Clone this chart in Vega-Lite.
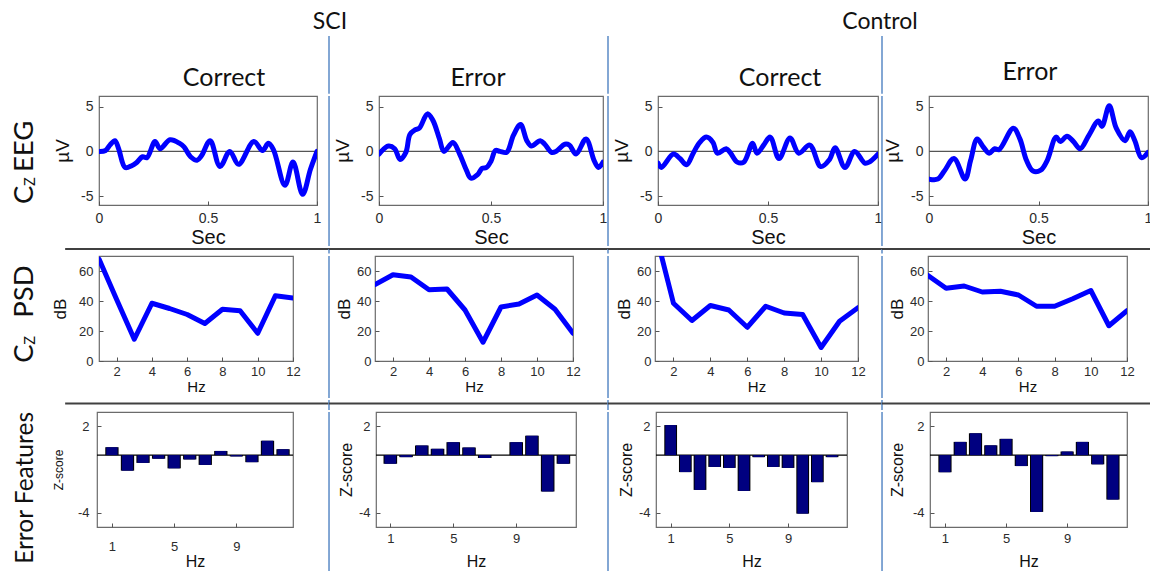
{
  "$schema": "https://vega.github.io/schema/vega-lite/v6.json",
  "padding": 0,
  "background": "white",
  "bounds": "full",
  "spacing": 0,
  "config": {
    "view": {"stroke": null},
    "concat": {"spacing": 0},
    "axis": {"domain": false, "grid": false, "labelFont": "Liberation Sans", "titleFont": "Liberation Sans", "titleFontWeight": "normal", "labelColor": "#2b2b2b", "titleColor": "#111", "tickColor": "#555", "tickSize": -4, "labelPadding": 8, "labelFlush": false, "labelOverlap": false, "labelBound": false},
    "text": {"font": "Lato", "color": "#111"}
  },
  "datasets": {
    "eeg_sci_correct": [{"t":0,"v":0},{"t":0.03,"v":0.1},{"t":0.05,"v":0.7},{"t":0.073,"v":1.2},{"t":0.09,"v":0.3},{"t":0.12,"v":-1.8},{"t":0.15,"v":-1.6},{"t":0.17,"v":-1.3},{"t":0.2,"v":-0.6},{"t":0.22,"v":-0.7},{"t":0.257,"v":1.1},{"t":0.28,"v":0.3},{"t":0.326,"v":1.3},{"t":0.37,"v":0.9},{"t":0.39,"v":0.5},{"t":0.42,"v":-0.6},{"t":0.45,"v":-1.0},{"t":0.47,"v":-0.5},{"t":0.51,"v":1.2},{"t":0.555,"v":-1.7},{"t":0.6,"v":0},{"t":0.64,"v":-1.45},{"t":0.71,"v":1.1},{"t":0.75,"v":0.1},{"t":0.777,"v":0.9},{"t":0.8,"v":0.2},{"t":0.853,"v":-3.8},{"t":0.89,"v":-1.2},{"t":0.934,"v":-4.8},{"t":0.97,"v":-2},{"t":1,"v":0}],
    "eeg_sci_error": [{"t":0,"v":-0.3},{"t":0.042,"v":0.6},{"t":0.07,"v":0.3},{"t":0.094,"v":-0.9},{"t":0.12,"v":-0.1},{"t":0.138,"v":1.9},{"t":0.16,"v":2.4},{"t":0.18,"v":2.6},{"t":0.216,"v":4.2},{"t":0.24,"v":3.5},{"t":0.27,"v":1.4},{"t":0.29,"v":0},{"t":0.33,"v":1.0},{"t":0.36,"v":-0.3},{"t":0.39,"v":-2.1},{"t":0.41,"v":-3.0},{"t":0.44,"v":-2.6},{"t":0.46,"v":-1.9},{"t":0.48,"v":-1.8},{"t":0.5,"v":-1.1},{"t":0.52,"v":0.1},{"t":0.54,"v":0},{"t":0.57,"v":-0.1},{"t":0.6,"v":1.8},{"t":0.632,"v":3.0},{"t":0.66,"v":1.2},{"t":0.68,"v":0.6},{"t":0.72,"v":1.2},{"t":0.74,"v":0.8},{"t":0.77,"v":-0.1},{"t":0.79,"v":0},{"t":0.83,"v":0.8},{"t":0.85,"v":0.7},{"t":0.88,"v":-0.3},{"t":0.924,"v":1.4},{"t":0.96,"v":-1.0},{"t":0.98,"v":-1.8},{"t":1,"v":-1.2}],
    "eeg_ctrl_correct": [{"t":0,"v":-1.3},{"t":0.015,"v":-1.8},{"t":0.07,"v":-0.3},{"t":0.1,"v":-0.8},{"t":0.13,"v":-1.5},{"t":0.16,"v":-0.2},{"t":0.19,"v":1.0},{"t":0.22,"v":1.6},{"t":0.25,"v":1.0},{"t":0.27,"v":-0.2},{"t":0.31,"v":0.3},{"t":0.33,"v":-0.2},{"t":0.36,"v":-1.2},{"t":0.39,"v":-1.2},{"t":0.43,"v":0.9},{"t":0.45,"v":-0.2},{"t":0.48,"v":0.7},{"t":0.51,"v":1.6},{"t":0.55,"v":-0.8},{"t":0.6,"v":1.5},{"t":0.64,"v":-0.2},{"t":0.69,"v":0.7},{"t":0.74,"v":-1.7},{"t":0.78,"v":-0.9},{"t":0.805,"v":0.4},{"t":0.85,"v":-1.8},{"t":0.894,"v":0},{"t":0.94,"v":-1.3},{"t":0.96,"v":-1.2},{"t":1,"v":-0.3}],
    "eeg_ctrl_error": [{"t":0,"v":-3.1},{"t":0.04,"v":-3.1},{"t":0.07,"v":-2.2},{"t":0.114,"v":-0.8},{"t":0.165,"v":-3.1},{"t":0.19,"v":-1.0},{"t":0.22,"v":1.4},{"t":0.245,"v":0.6},{"t":0.275,"v":-0.2},{"t":0.3,"v":0.3},{"t":0.32,"v":0.2},{"t":0.385,"v":2.6},{"t":0.415,"v":1.4},{"t":0.445,"v":-1.0},{"t":0.475,"v":-2.2},{"t":0.51,"v":-2.1},{"t":0.54,"v":-1.0},{"t":0.58,"v":1.6},{"t":0.6,"v":1.1},{"t":0.63,"v":1.7},{"t":0.66,"v":1.1},{"t":0.69,"v":0.3},{"t":0.73,"v":1.8},{"t":0.773,"v":3.4},{"t":0.79,"v":2.8},{"t":0.823,"v":5.1},{"t":0.855,"v":2.6},{"t":0.895,"v":1.2},{"t":0.918,"v":2.2},{"t":0.94,"v":1.2},{"t":0.97,"v":-0.7},{"t":1,"v":-0.1}],
    "psd_sci_correct": [{"hz":1,"db":68},{"hz":2,"db":41},{"hz":3,"db":14.5},{"hz":4,"db":38.5},{"hz":5,"db":35},{"hz":6,"db":31},{"hz":7,"db":25},{"hz":8,"db":34.5},{"hz":9,"db":33.5},{"hz":10,"db":18.5},{"hz":11,"db":43.5},{"hz":12,"db":42}],
    "psd_sci_error": [{"hz":1,"db":51},{"hz":2,"db":57.5},{"hz":3,"db":56},{"hz":4,"db":47.5},{"hz":5,"db":48},{"hz":6,"db":34},{"hz":7,"db":12.5},{"hz":8,"db":36},{"hz":9,"db":38},{"hz":10,"db":44},{"hz":11,"db":34.5},{"hz":12,"db":18.5}],
    "psd_ctrl_correct": [{"hz":1,"db":87},{"hz":2,"db":38.5},{"hz":3,"db":27},{"hz":4,"db":37},{"hz":5,"db":34},{"hz":6,"db":22.5},{"hz":7,"db":36.5},{"hz":8,"db":32},{"hz":9,"db":31},{"hz":10,"db":9},{"hz":11,"db":26.5},{"hz":12,"db":35.5}],
    "psd_ctrl_error": [{"hz":1,"db":57},{"hz":2,"db":48.5},{"hz":3,"db":50},{"hz":4,"db":46},{"hz":5,"db":46.5},{"hz":6,"db":44},{"hz":7,"db":36.5},{"hz":8,"db":36.5},{"hz":9,"db":41.5},{"hz":10,"db":47},{"hz":11,"db":23.5},{"hz":12,"db":33.5}],
    "z_sci_correct": [{"hz":1,"z":0.55},{"hz":2,"z":-1.08},{"hz":3,"z":-0.54},{"hz":4,"z":-0.25},{"hz":5,"z":-0.92},{"hz":6,"z":-0.3},{"hz":7,"z":-0.68},{"hz":8,"z":0.29},{"hz":9,"z":-0.09},{"hz":10,"z":-0.49},{"hz":11,"z":1.0},{"hz":12,"z":0.41}],
    "z_sci_error": [{"hz":1,"z":-0.6},{"hz":2,"z":-0.14},{"hz":3,"z":0.67},{"hz":4,"z":0.44},{"hz":5,"z":0.9},{"hz":6,"z":0.53},{"hz":7,"z":-0.2},{"hz":8,"z":0},{"hz":9,"z":0.9},{"hz":10,"z":1.35},{"hz":11,"z":-2.53},{"hz":12,"z":-0.6}],
    "z_ctrl_correct": [{"hz":1,"z":2.09},{"hz":2,"z":-1.18},{"hz":3,"z":-2.42},{"hz":4,"z":-0.82},{"hz":5,"z":-0.89},{"hz":6,"z":-2.49},{"hz":7,"z":-0.14},{"hz":8,"z":-0.82},{"hz":9,"z":-0.89},{"hz":10,"z":-4.07},{"hz":11,"z":-1.88},{"hz":12,"z":-0.14}],
    "z_ctrl_error": [{"hz":1,"z":-1.19},{"hz":2,"z":0.92},{"hz":3,"z":1.52},{"hz":4,"z":0.68},{"hz":5,"z":1.13},{"hz":6,"z":-0.76},{"hz":7,"z":-3.95},{"hz":8,"z":-0.07},{"hz":9,"z":0.25},{"hz":10,"z":0.92},{"hz":11,"z":-0.64},{"hz":12,"z":-3.09}]
  },
  "vconcat": [
    {
      "spacing": 0, "bounds": "flush",
      "hconcat": [
        {"width": 660, "height": 35, "data": {"values": [{}]}, "mark": {"type": "text", "fontSize": 23},
         "encoding": {"text": {"value": "SCI"}, "x": {"datum": 0.5, "scale": {"domain": [0, 1]}, "axis": null}, "y": {"datum": 0.371, "scale": {"domain": [0, 1]}, "axis": null}}},
        {"width": 490, "height": 35, "data": {"values": [{}]}, "mark": {"type": "text", "fontSize": 23},
         "encoding": {"text": {"value": "Control"}, "x": {"datum": 0.449, "scale": {"domain": [0, 1]}, "axis": null}, "y": {"datum": 0.371, "scale": {"domain": [0, 1]}, "axis": null}}}
      ]
    },
    {
      "spacing": 0, "bounds": "flush",
      "hconcat": [
        {"width": 329, "height": 57.75, "data": {"values": [{}]}, "mark": {"type": "text", "fontSize": 25},
         "encoding": {"text": {"value": "Correct"}, "x": {"datum": 0.681, "scale": {"domain": [0, 1]}, "axis": null}, "y": {"datum": 0.28, "scale": {"domain": [0, 1]}, "axis": null}}},
        {"width": 279, "height": 57.75, "data": {"values": [{}]},
         "layer": [
           {"mark": {"type": "rule", "color": "#5a8ac6", "strokeWidth": 1.5}, "encoding": {"x": {"datum": 0, "scale": {"domain": [0, 1]}, "axis": null}}},
           {"mark": {"type": "text", "fontSize": 25}, "encoding": {"text": {"value": "Error"}, "x": {"datum": 0.534, "axis": null}, "y": {"datum": 0.28, "scale": {"domain": [0, 1]}, "axis": null}}}
         ]},
        {"width": 274, "height": 57.75, "data": {"values": [{}]},
         "layer": [
           {"mark": {"type": "rule", "color": "#5a8ac6", "strokeWidth": 1.5}, "encoding": {"x": {"datum": 0, "scale": {"domain": [0, 1]}, "axis": null}}},
           {"mark": {"type": "text", "fontSize": 25}, "encoding": {"text": {"value": "Correct"}, "x": {"datum": 0.628, "axis": null}, "y": {"datum": 0.28, "scale": {"domain": [0, 1]}, "axis": null}}}
         ]},
        {"width": 268, "height": 57.75, "data": {"values": [{}]},
         "layer": [
           {"mark": {"type": "rule", "color": "#5a8ac6", "strokeWidth": 1.5}, "encoding": {"x": {"datum": 0, "scale": {"domain": [0, 1]}, "axis": null}}},
           {"mark": {"type": "text", "fontSize": 25}, "encoding": {"text": {"value": "Error"}, "x": {"datum": 0.552, "axis": null}, "y": {"datum": 0.38, "scale": {"domain": [0, 1]}, "axis": null}}}
         ]}
      ]
    },
    {
      "spacing": 0, "bounds": "flush",
      "hconcat": [
        {"width": 99, "height": 150, "data": {"values": [{}]},
         "layer": [
           {"mark": {"type": "text", "fontSize": 27.5, "angle": 270, "align": "left", "baseline": "alphabetic"}, "encoding": {"text": {"value": "C"}, "x": {"datum": 0.333, "scale": {"domain": [0, 1]}, "axis": null}, "y": {"datum": 0.28, "scale": {"domain": [0, 1]}, "axis": null}}},
           {"mark": {"type": "text", "fontSize": 14.5, "angle": 270, "align": "left", "baseline": "alphabetic"}, "encoding": {"text": {"value": "Z"}, "x": {"datum": 0.354, "axis": null}, "y": {"datum": 0.4, "axis": null}}},
           {"mark": {"type": "text", "fontSize": 27.5, "angle": 270, "align": "left", "baseline": "alphabetic"}, "encoding": {"text": {"value": "EEG"}, "x": {"datum": 0.333, "axis": null}, "y": {"datum": 0.493, "axis": null}}}
         ]},
        {"width": 218, "height": 109, "view": {"stroke": "#6b6b6b", "strokeWidth": 1.2},
         "layer": [
           {"data": {"values": [{}]}, "mark": {"type": "rule", "color": "#555", "strokeWidth": 1.3}, "encoding": {"y": {"datum": 0}}},
           {"data": {"name": "eeg_sci_correct"}, "mark": {"type": "line", "color": "#0000ff", "strokeWidth": 5, "interpolate": "catmull-rom", "strokeCap": "round", "strokeJoin": "round", "clip": true},
            "encoding": {
              "x": {"field": "t", "type": "quantitative", "scale": {"domain": [0, 1], "nice": false}, "axis": {"values": [0, 0.5, 1], "format": "~g", "title": "Sec", "titleFontSize": 20, "labelFontSize": 14, "labelPadding": 10, "titlePadding": 2}},
              "y": {"field": "v", "type": "quantitative", "scale": {"domain": [-6, 6.2], "nice": false, "zero": false}, "axis": {"values": [-5, 0, 5], "labelExpr": "'' + datum.value", "title": "µV", "titleFontSize": 19, "labelFontSize": 14, "labelPadding": 10, "titlePadding": 8}}
            }}
         ]},
        {"width": 62, "height": 150, "data": {"values": [{}]}, "mark": {"type": "rule", "color": "#5a8ac6", "strokeWidth": 1.5}, "encoding": {"x": {"datum": 0.194, "scale": {"domain": [0, 1]}, "axis": null}}},
        {"width": 224, "height": 109, "view": {"stroke": "#6b6b6b", "strokeWidth": 1.2},
         "layer": [
           {"data": {"values": [{}]}, "mark": {"type": "rule", "color": "#555", "strokeWidth": 1.3}, "encoding": {"y": {"datum": 0}}},
           {"data": {"name": "eeg_sci_error"}, "mark": {"type": "line", "color": "#0000ff", "strokeWidth": 5, "interpolate": "catmull-rom", "strokeCap": "round", "strokeJoin": "round", "clip": true},
            "encoding": {
              "x": {"field": "t", "type": "quantitative", "scale": {"domain": [0, 1], "nice": false}, "axis": {"values": [0, 0.5, 1], "format": "~g", "title": "Sec", "titleFontSize": 20, "labelFontSize": 14, "labelPadding": 10, "titlePadding": 2}},
              "y": {"field": "v", "type": "quantitative", "scale": {"domain": [-6, 6.2], "nice": false, "zero": false}, "axis": {"values": [-5, 0, 5], "labelExpr": "'' + datum.value", "title": "µV", "titleFontSize": 19, "labelFontSize": 14, "labelPadding": 10, "titlePadding": 8}}
            }}
         ]},
        {"width": 55, "height": 150, "data": {"values": [{}]}, "mark": {"type": "rule", "color": "#5a8ac6", "strokeWidth": 1.5}, "encoding": {"x": {"datum": 0.091, "scale": {"domain": [0, 1]}, "axis": null}}},
        {"width": 220, "height": 109, "view": {"stroke": "#6b6b6b", "strokeWidth": 1.2},
         "layer": [
           {"data": {"values": [{}]}, "mark": {"type": "rule", "color": "#555", "strokeWidth": 1.3}, "encoding": {"y": {"datum": 0}}},
           {"data": {"name": "eeg_ctrl_correct"}, "mark": {"type": "line", "color": "#0000ff", "strokeWidth": 5, "interpolate": "catmull-rom", "strokeCap": "round", "strokeJoin": "round", "clip": true},
            "encoding": {
              "x": {"field": "t", "type": "quantitative", "scale": {"domain": [0, 1], "nice": false}, "axis": {"values": [0, 0.5, 1], "format": "~g", "title": "Sec", "titleFontSize": 20, "labelFontSize": 14, "labelPadding": 10, "titlePadding": 2}},
              "y": {"field": "v", "type": "quantitative", "scale": {"domain": [-6, 6.2], "nice": false, "zero": false}, "axis": {"values": [-5, 0, 5], "labelExpr": "'' + datum.value", "title": "µV", "titleFontSize": 19, "labelFontSize": 14, "labelPadding": 10, "titlePadding": 8}}
            }}
         ]},
        {"width": 51, "height": 150, "data": {"values": [{}]}, "mark": {"type": "rule", "color": "#5a8ac6", "strokeWidth": 1.5}, "encoding": {"x": {"datum": 0.078, "scale": {"domain": [0, 1]}, "axis": null}}},
        {"width": 219, "height": 109, "view": {"stroke": "#6b6b6b", "strokeWidth": 1.2},
         "layer": [
           {"data": {"values": [{}]}, "mark": {"type": "rule", "color": "#555", "strokeWidth": 1.3}, "encoding": {"y": {"datum": 0}}},
           {"data": {"name": "eeg_ctrl_error"}, "mark": {"type": "line", "color": "#0000ff", "strokeWidth": 5, "interpolate": "catmull-rom", "strokeCap": "round", "strokeJoin": "round", "clip": true},
            "encoding": {
              "x": {"field": "t", "type": "quantitative", "scale": {"domain": [0, 1], "nice": false}, "axis": {"values": [0, 0.5, 1], "format": "~g", "title": "Sec", "titleFontSize": 20, "labelFontSize": 14, "labelPadding": 10, "titlePadding": 2}},
              "y": {"field": "v", "type": "quantitative", "scale": {"domain": [-6, 6.2], "nice": false, "zero": false}, "axis": {"values": [-5, 0, 5], "labelExpr": "'' + datum.value", "title": "µV", "titleFontSize": 19, "labelFontSize": 14, "labelPadding": 10, "titlePadding": 8}}
            }}
         ]}
      ]
    },
    {
      "spacing": 0, "bounds": "flush",
      "hconcat": [
        {"width": 329, "height": 4.5, "data": {"values": [{}]}, "mark": {"type": "rule", "color": "#404040", "strokeWidth": 2},
         "encoding": {"x": {"datum": 0.198, "scale": {"domain": [0, 1]}, "axis": null}, "x2": {"datum": 1}, "y": {"datum": 1, "scale": {"domain": [0, 1]}, "axis": null}}},
        {"width": 279, "height": 4.5, "data": {"values": [{}]},
         "layer": [
           {"mark": {"type": "rule", "color": "#5a8ac6", "strokeWidth": 1.5}, "encoding": {"x": {"datum": 0, "scale": {"domain": [0, 1]}, "axis": null}}},
           {"mark": {"type": "rule", "color": "#404040", "strokeWidth": 2}, "encoding": {"y": {"datum": 1, "scale": {"domain": [0, 1]}, "axis": null}}}
         ]},
        {"width": 274, "height": 4.5, "data": {"values": [{}]},
         "layer": [
           {"mark": {"type": "rule", "color": "#5a8ac6", "strokeWidth": 1.5}, "encoding": {"x": {"datum": 0, "scale": {"domain": [0, 1]}, "axis": null}}},
           {"mark": {"type": "rule", "color": "#404040", "strokeWidth": 2}, "encoding": {"y": {"datum": 1, "scale": {"domain": [0, 1]}, "axis": null}}}
         ]},
        {"width": 268, "height": 4.5, "data": {"values": [{}]},
         "layer": [
           {"mark": {"type": "rule", "color": "#5a8ac6", "strokeWidth": 1.5}, "encoding": {"x": {"datum": 0, "scale": {"domain": [0, 1]}, "axis": null}}},
           {"mark": {"type": "rule", "color": "#404040", "strokeWidth": 2}, "encoding": {"y": {"datum": 1, "scale": {"domain": [0, 1]}, "axis": null}}}
         ]}
      ]
    },
    {
      "spacing": 0, "bounds": "flush",
      "hconcat": [
        {"width": 99, "height": 142, "data": {"values": [{}]},
         "layer": [
           {"mark": {"type": "text", "fontSize": 27.5, "angle": 270, "align": "left", "baseline": "alphabetic"}, "encoding": {"text": {"value": "C"}, "x": {"datum": 0.333, "scale": {"domain": [0, 1]}, "axis": null}, "y": {"datum": 0.248, "scale": {"domain": [0, 1]}, "axis": null}}},
           {"mark": {"type": "text", "fontSize": 14.5, "angle": 270, "align": "left", "baseline": "alphabetic"}, "encoding": {"text": {"value": "Z"}, "x": {"datum": 0.354, "axis": null}, "y": {"datum": 0.375, "axis": null}}},
           {"mark": {"type": "text", "fontSize": 27.5, "angle": 270, "align": "left", "baseline": "alphabetic"}, "encoding": {"text": {"value": "PSD"}, "x": {"datum": 0.333, "axis": null}, "y": {"datum": 0.565, "axis": null}}}
         ]},
        {"width": 194, "height": 105, "view": {"stroke": "#6b6b6b", "strokeWidth": 1.2}, "data": {"name": "psd_sci_correct"},
         "mark": {"type": "line", "color": "#0000ff", "strokeWidth": 5, "strokeCap": "round", "strokeJoin": "round", "clip": true},
         "encoding": {
           "x": {"field": "hz", "type": "quantitative", "scale": {"domain": [1, 12], "nice": false, "zero": false}, "axis": {"values": [2, 4, 6, 8, 10, 12], "title": "Hz", "titleFontSize": 15, "labelFontSize": 13, "labelPadding": 8, "titlePadding": 1}},
           "y": {"field": "db", "type": "quantitative", "scale": {"domain": [0, 70], "nice": false}, "axis": {"values": [0, 20, 40, 60], "title": "dB", "titleFontSize": 17, "labelFontSize": 13, "labelPadding": 10, "titlePadding": 9}}
         }},
        {"width": 82, "height": 142, "data": {"values": [{}]}, "mark": {"type": "rule", "color": "#5a8ac6", "strokeWidth": 1.5}, "encoding": {"x": {"datum": 0.439, "scale": {"domain": [0, 1]}, "axis": null}}},
        {"width": 198, "height": 105, "view": {"stroke": "#6b6b6b", "strokeWidth": 1.2}, "data": {"name": "psd_sci_error"},
         "mark": {"type": "line", "color": "#0000ff", "strokeWidth": 5, "strokeCap": "round", "strokeJoin": "round", "clip": true},
         "encoding": {
           "x": {"field": "hz", "type": "quantitative", "scale": {"domain": [1, 12], "nice": false, "zero": false}, "axis": {"values": [2, 4, 6, 8, 10, 12], "title": "Hz", "titleFontSize": 15, "labelFontSize": 13, "labelPadding": 8, "titlePadding": 1}},
           "y": {"field": "db", "type": "quantitative", "scale": {"domain": [0, 70], "nice": false}, "axis": {"values": [0, 20, 40, 60], "title": "dB", "titleFontSize": 17, "labelFontSize": 13, "labelPadding": 8, "titlePadding": 3}}
         }},
        {"width": 82, "height": 142, "data": {"values": [{}]}, "mark": {"type": "rule", "color": "#5a8ac6", "strokeWidth": 1.5}, "encoding": {"x": {"datum": 0.427, "scale": {"domain": [0, 1]}, "axis": null}}},
        {"width": 203, "height": 105, "view": {"stroke": "#6b6b6b", "strokeWidth": 1.2}, "data": {"name": "psd_ctrl_correct"},
         "mark": {"type": "line", "color": "#0000ff", "strokeWidth": 5, "strokeCap": "round", "strokeJoin": "round", "clip": true},
         "encoding": {
           "x": {"field": "hz", "type": "quantitative", "scale": {"domain": [1, 12], "nice": false, "zero": false}, "axis": {"values": [2, 4, 6, 8, 10, 12], "title": "Hz", "titleFontSize": 15, "labelFontSize": 13, "labelPadding": 8, "titlePadding": 1}},
           "y": {"field": "db", "type": "quantitative", "scale": {"domain": [0, 70], "nice": false}, "axis": {"values": [0, 20, 40, 60], "title": "dB", "titleFontSize": 17, "labelFontSize": 13, "labelPadding": 8, "titlePadding": 3}}
         }},
        {"width": 70, "height": 142, "data": {"values": [{}]}, "mark": {"type": "rule", "color": "#5a8ac6", "strokeWidth": 1.5}, "encoding": {"x": {"datum": 0.343, "scale": {"domain": [0, 1]}, "axis": null}}},
        {"width": 199, "height": 105, "view": {"stroke": "#6b6b6b", "strokeWidth": 1.2}, "data": {"name": "psd_ctrl_error"},
         "mark": {"type": "line", "color": "#0000ff", "strokeWidth": 5, "strokeCap": "round", "strokeJoin": "round", "clip": true},
         "encoding": {
           "x": {"field": "hz", "type": "quantitative", "scale": {"domain": [1, 12], "nice": false, "zero": false}, "axis": {"values": [2, 4, 6, 8, 10, 12], "title": "Hz", "titleFontSize": 15, "labelFontSize": 13, "labelPadding": 8, "titlePadding": 1}},
           "y": {"field": "db", "type": "quantitative", "scale": {"domain": [0, 70], "nice": false}, "axis": {"values": [0, 20, 40, 60], "title": "dB", "titleFontSize": 17, "labelFontSize": 13, "labelPadding": 8, "titlePadding": 3}}
         }}
      ]
    },
    {
      "spacing": 0, "bounds": "flush",
      "hconcat": [
        {"width": 329, "height": 10, "data": {"values": [{}]}, "mark": {"type": "rule", "color": "#404040", "strokeWidth": 2},
         "encoding": {"x": {"datum": 0.198, "scale": {"domain": [0, 1]}, "axis": null}, "x2": {"datum": 1}, "y": {"datum": 0.65, "scale": {"domain": [0, 1]}, "axis": null}}},
        {"width": 279, "height": 10, "data": {"values": [{}]},
         "layer": [
           {"mark": {"type": "rule", "color": "#5a8ac6", "strokeWidth": 1.5}, "encoding": {"x": {"datum": 0, "scale": {"domain": [0, 1]}, "axis": null}}},
           {"mark": {"type": "rule", "color": "#404040", "strokeWidth": 2}, "encoding": {"y": {"datum": 0.65, "scale": {"domain": [0, 1]}, "axis": null}}}
         ]},
        {"width": 274, "height": 10, "data": {"values": [{}]},
         "layer": [
           {"mark": {"type": "rule", "color": "#5a8ac6", "strokeWidth": 1.5}, "encoding": {"x": {"datum": 0, "scale": {"domain": [0, 1]}, "axis": null}}},
           {"mark": {"type": "rule", "color": "#404040", "strokeWidth": 2}, "encoding": {"y": {"datum": 0.65, "scale": {"domain": [0, 1]}, "axis": null}}}
         ]},
        {"width": 268, "height": 10, "data": {"values": [{}]},
         "layer": [
           {"mark": {"type": "rule", "color": "#5a8ac6", "strokeWidth": 1.5}, "encoding": {"x": {"datum": 0, "scale": {"domain": [0, 1]}, "axis": null}}},
           {"mark": {"type": "rule", "color": "#404040", "strokeWidth": 2}, "encoding": {"y": {"datum": 0.65, "scale": {"domain": [0, 1]}, "axis": null}}}
         ]}
      ]
    },
    {
      "spacing": 0, "bounds": "flush",
      "hconcat": [
        {"width": 97, "height": 161, "data": {"values": [{}]},
         "mark": {"type": "text", "fontSize": 24.5, "angle": 270, "align": "right", "baseline": "alphabetic"},
         "encoding": {"text": {"value": "Error Features"}, "x": {"datum": 0.34, "scale": {"domain": [0, 1]}, "axis": null}, "y": {"datum": 1, "scale": {"domain": [0, 1]}, "axis": null}}},
        {"width": 196, "height": 115, "view": {"stroke": "#6b6b6b", "strokeWidth": 1.2},
         "layer": [
           {"data": {"values": [{}]}, "mark": {"type": "rule", "color": "#000", "strokeWidth": 1.3}, "encoding": {"y": {"datum": 0}}},
           {"data": {"name": "z_sci_correct"}, "mark": {"type": "rule", "color": "#000", "strokeWidth": 13.3},
            "encoding": {
              "x": {"field": "hz", "type": "quantitative", "scale": {"domain": [0.04, 12.64], "nice": false, "zero": false}, "axis": {"values": [1, 2, 3, 4, 5, 6, 7, 8, 9, 10, 11, 12], "format": "d", "title": "Hz", "titleFontSize": 16, "labelFontSize": 13, "labelPadding": 17, "titlePadding": 0}},
              "y": {"field": "z", "type": "quantitative", "scale": {"domain": [-5, 3], "nice": false, "zero": false}, "axis": {"values": [-4, -2, 0, 2], "labelExpr": "'' + datum.value", "title": "Z-score", "titleFontSize": 12, "labelFontSize": 13, "labelPadding": 12, "titlePadding": 12}},
              "y2": {"datum": 0}
            }},
           {"data": {"name": "z_sci_correct"}, "mark": {"type": "rule", "color": "#000080", "strokeWidth": 11.3},
            "encoding": {"x": {"field": "hz", "type": "quantitative"}, "y": {"field": "z", "type": "quantitative"}, "y2": {"datum": 0}}}
         ]},
        {"width": 83, "height": 161, "data": {"values": [{}]}, "mark": {"type": "rule", "color": "#5a8ac6", "strokeWidth": 1.5}, "encoding": {"x": {"datum": 0.434, "scale": {"domain": [0, 1]}, "axis": null}}},
        {"width": 200, "height": 115, "view": {"stroke": "#6b6b6b", "strokeWidth": 1.2},
         "layer": [
           {"data": {"values": [{}]}, "mark": {"type": "rule", "color": "#000", "strokeWidth": 1.3}, "encoding": {"y": {"datum": 0}}},
           {"data": {"name": "z_sci_error"}, "mark": {"type": "rule", "color": "#000", "strokeWidth": 13.6},
            "encoding": {
              "x": {"field": "hz", "type": "quantitative", "scale": {"domain": [0.09, 12.8], "nice": false, "zero": false}, "axis": {"values": [1, 2, 3, 4, 5, 6, 7, 8, 9, 10, 11, 12], "format": "d", "title": "Hz", "titleFontSize": 16, "labelFontSize": 13, "labelPadding": 9, "titlePadding": 8}},
              "y": {"field": "z", "type": "quantitative", "scale": {"domain": [-5, 3], "nice": false, "zero": false}, "axis": {"values": [-4, -2, 0, 2], "labelExpr": "'' + datum.value", "title": "Z-score", "titleFontSize": 16, "labelFontSize": 13, "labelPadding": 10, "titlePadding": 4}},
              "y2": {"datum": 0}
            }},
           {"data": {"name": "z_sci_error"}, "mark": {"type": "rule", "color": "#000080", "strokeWidth": 11.6},
            "encoding": {"x": {"field": "hz", "type": "quantitative"}, "y": {"field": "z", "type": "quantitative"}, "y2": {"datum": 0}}}
         ]},
        {"width": 80, "height": 161, "data": {"values": [{}]}, "mark": {"type": "rule", "color": "#5a8ac6", "strokeWidth": 1.5}, "encoding": {"x": {"datum": 0.4, "scale": {"domain": [0, 1]}, "axis": null}}},
        {"width": 191, "height": 115, "view": {"stroke": "#6b6b6b", "strokeWidth": 1.2},
         "layer": [
           {"data": {"values": [{}]}, "mark": {"type": "rule", "color": "#000", "strokeWidth": 1.3}, "encoding": {"y": {"datum": 0}}},
           {"data": {"name": "z_ctrl_correct"}, "mark": {"type": "rule", "color": "#000", "strokeWidth": 12.75},
            "encoding": {
              "x": {"field": "hz", "type": "quantitative", "scale": {"domain": [0, 13.02], "nice": false, "zero": false}, "axis": {"values": [1, 2, 3, 4, 5, 6, 7, 8, 9, 10, 11, 12], "format": "d", "title": "Hz", "titleFontSize": 16, "labelFontSize": 13, "labelPadding": 9, "titlePadding": 8}},
              "y": {"field": "z", "type": "quantitative", "scale": {"domain": [-5, 3], "nice": false, "zero": false}, "axis": {"values": [-4, -2, 0, 2], "labelExpr": "'' + datum.value", "title": "Z-score", "titleFontSize": 16, "labelFontSize": 13, "labelPadding": 10, "titlePadding": 4}},
              "y2": {"datum": 0}
            }},
           {"data": {"name": "z_ctrl_correct"}, "mark": {"type": "rule", "color": "#000080", "strokeWidth": 10.75},
            "encoding": {"x": {"field": "hz", "type": "quantitative"}, "y": {"field": "z", "type": "quantitative"}, "y2": {"datum": 0}}}
         ]},
        {"width": 83, "height": 161, "data": {"values": [{}]}, "mark": {"type": "rule", "color": "#5a8ac6", "strokeWidth": 1.5}, "encoding": {"x": {"datum": 0.422, "scale": {"domain": [0, 1]}, "axis": null}}},
        {"width": 197, "height": 115, "view": {"stroke": "#6b6b6b", "strokeWidth": 1.2},
         "layer": [
           {"data": {"values": [{}]}, "mark": {"type": "rule", "color": "#000", "strokeWidth": 1.3}, "encoding": {"y": {"datum": 0}}},
           {"data": {"name": "z_ctrl_error"}, "mark": {"type": "rule", "color": "#000", "strokeWidth": 13.2},
            "encoding": {
              "x": {"field": "hz", "type": "quantitative", "scale": {"domain": [0.02, 12.92], "nice": false, "zero": false}, "axis": {"values": [1, 2, 3, 4, 5, 6, 7, 8, 9, 10, 11, 12], "format": "d", "title": "Hz", "titleFontSize": 16, "labelFontSize": 13, "labelPadding": 9, "titlePadding": 8}},
              "y": {"field": "z", "type": "quantitative", "scale": {"domain": [-5, 3], "nice": false, "zero": false}, "axis": {"values": [-4, -2, 0, 2], "labelExpr": "'' + datum.value", "title": "Z-score", "titleFontSize": 16, "labelFontSize": 13, "labelPadding": 10, "titlePadding": 7}},
              "y2": {"datum": 0}
            }},
           {"data": {"name": "z_ctrl_error"}, "mark": {"type": "rule", "color": "#000080", "strokeWidth": 11.2},
            "encoding": {"x": {"field": "hz", "type": "quantitative"}, "y": {"field": "z", "type": "quantitative"}, "y2": {"datum": 0}}}
         ]}
      ]
    }
  ]
}
